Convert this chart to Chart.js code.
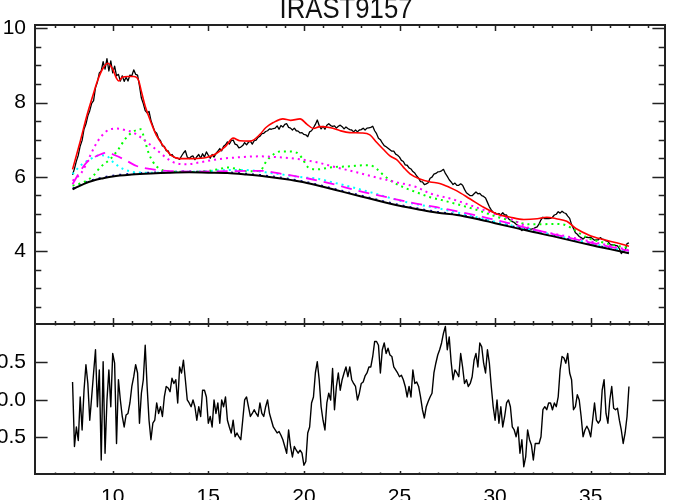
<!DOCTYPE html>
<html><head><meta charset="utf-8">
<script src="https://cdn.jsdelivr.net/npm/chart.js@4.4.1/dist/chart.umd.min.js"></script>
<style>
html,body{margin:0;padding:0;background:#fff;}
#wrap{position:relative;width:700px;height:500px;overflow:hidden;background:#fff;}
canvas{position:absolute;left:0;top:0;}
</style></head><body>
<div id="wrap"><canvas id="cbot" width="700" height="500"></canvas><canvas id="ctop" width="700" height="500"></canvas></div>
<script>
const chartTitle = 'IRAST9157';

// wavelength grid of the observed spectrum (micron)
const wave = [7.9,
8.0,8.1,8.2,8.3,8.4,8.5,8.6,8.7,8.8,8.9,
9.0,9.1,9.2,9.3,9.4,9.5,9.6,9.7,9.8,9.9,
10.0,10.1,10.2,10.3,10.4,10.5,10.6,10.7,10.8,10.9,
11.0,11.1,11.2,11.3,11.4,11.5,11.6,11.7,11.8,11.9,
12.0,12.1,12.2,12.3,12.4,12.5,12.6,12.7,12.8,12.9,
13.0,13.1,13.2,13.3,13.4,13.5,13.6,13.7,13.8,13.9,
14.0,14.1,14.2,14.3,14.4,14.5,14.6,14.7,14.8,14.9,
15.0,15.1,15.2,15.3,15.4,15.5,15.6,15.7,15.8,15.9,
16.0,16.1,16.2,16.3,16.4,16.5,16.6,16.7,16.8,16.9,
17.0,17.1,17.2,17.3,17.4,17.5,17.6,17.7,17.8,17.9,
18.0,18.1,18.2,18.3,18.4,18.5,18.6,18.7,18.8,18.9,
19.0,19.1,19.2,19.3,19.4,19.5,19.6,19.7,19.8,19.9,
20.0,20.1,20.2,20.3,20.4,20.5,20.6,20.7,20.8,20.9,
21.0,21.1,21.2,21.3,21.4,21.5,21.6,21.7,21.8,21.9,
22.0,22.1,22.2,22.3,22.4,22.5,22.6,22.7,22.8,22.9,
23.0,23.1,23.2,23.3,23.4,23.5,23.6,23.7,23.8,23.9,
24.0,24.1,24.2,24.3,24.4,24.5,24.6,24.7,24.8,24.9,
25.0,25.1,25.2,25.3,25.4,25.5,25.6,25.7,25.8,25.9,
26.0,26.1,26.2,26.3,26.4,26.5,26.6,26.7,26.8,26.9,
27.0,27.1,27.2,27.3,27.4,27.5,27.6,27.7,27.8,27.9,
28.0,28.1,28.2,28.3,28.4,28.5,28.6,28.7,28.8,28.9,
29.0,29.1,29.2,29.3,29.4,29.5,29.6,29.7,29.8,29.9,
30.0,30.1,30.2,30.3,30.4,30.5,30.6,30.7,30.8,30.9,
31.0,31.1,31.2,31.3,31.4,31.5,31.6,31.7,31.8,31.9,
32.0,32.1,32.2,32.3,32.4,32.5,32.6,32.7,32.8,32.9,
33.0,33.1,33.2,33.3,33.4,33.5,33.6,33.7,33.8,33.9,
34.0,34.1,34.2,34.3,34.4,34.5,34.6,34.7,34.8,34.9,
35.0,35.1,35.2,35.3,35.4,35.5,35.6,35.7,35.8,35.9,
36.0,36.1,36.2,36.3,36.4,36.5,36.6,36.7,36.8,36.9,
37.0];

// observed flux
const flux = [6.05,
6.22,6.42,6.58,6.83,6.98,7.28,7.42,7.64,7.78,7.98,
8.05,8.4,8.55,8.8,8.85,9.1,8.9,9.18,8.85,9.12,
8.8,8.98,8.72,8.76,8.58,8.72,8.57,8.68,8.58,8.74,
8.72,8.88,8.76,8.74,8.45,8.12,7.97,7.78,7.72,7.76,
7.52,7.37,7.22,7.17,7.03,6.97,6.83,6.82,6.7,6.7,
6.58,6.6,6.53,6.51,6.5,6.47,6.56,6.64,6.7,6.53,
6.49,6.54,6.56,6.46,6.54,6.6,6.5,6.62,6.53,6.67,
6.58,6.5,6.6,6.53,6.63,6.69,6.76,6.7,6.82,6.86,
6.94,6.88,6.97,6.99,6.88,6.86,6.78,6.8,6.84,6.92,
6.86,6.93,6.96,6.88,6.97,6.99,7.06,7.09,7.16,7.17,
7.22,7.24,7.29,7.28,7.3,7.31,7.37,7.28,7.38,7.34,
7.41,7.43,7.33,7.31,7.26,7.31,7.24,7.23,7.18,7.19,
7.14,7.13,7.08,7.21,7.24,7.32,7.41,7.53,7.38,7.29,
7.36,7.28,7.39,7.43,7.38,7.36,7.37,7.31,7.36,7.39,
7.35,7.29,7.34,7.3,7.27,7.26,7.21,7.26,7.21,7.26,
7.27,7.31,7.26,7.31,7.32,7.33,7.36,7.24,7.16,7.04,
7.0,6.91,6.84,6.81,6.77,6.73,6.69,6.69,6.61,6.58,
6.53,6.44,6.41,6.32,6.31,6.24,6.21,6.14,6.1,6.02,
5.96,5.87,5.86,5.79,5.81,5.84,5.96,5.99,6.07,6.09,
6.13,6.14,6.16,6.2,6.09,6.01,5.92,5.86,5.79,5.83,
5.77,5.77,5.81,5.77,5.66,5.57,5.53,5.49,5.49,5.54,
5.59,5.54,5.55,5.49,5.47,5.43,5.31,5.19,5.11,5.04,
5.03,4.99,5.01,4.97,5.03,4.97,4.97,4.87,4.83,4.79,
4.77,4.72,4.69,4.59,4.55,4.61,4.57,4.63,4.59,4.59,
4.6,4.63,4.65,4.73,4.84,4.91,4.87,4.87,4.87,4.88,
4.91,4.97,4.99,5.06,5.02,5.07,5.03,5.01,4.94,4.88,
4.71,4.61,4.49,4.45,4.39,4.36,4.32,4.37,4.37,4.36,
4.37,4.33,4.29,4.3,4.3,4.36,4.32,4.31,4.27,4.26,
4.19,4.16,4.17,4.15,4.14,4.06,3.93,3.99,4.01,4.2,
4.22];

// residuals (lower panel)
const resid = [0.24,
-0.62,-0.36,-0.54,0.04,-0.40,0.13,0.47,0.22,-0.27,0.04,
0.36,0.67,-0.09,0.40,-0.80,0.51,-0.71,0.00,0.40,-0.09,
0.62,0.49,-0.58,0.27,0.00,-0.22,-0.36,-0.20,-0.18,-0.04,
0.18,0.31,0.47,0.36,-0.31,0.09,0.27,0.73,0.18,-0.27,
-0.53,-0.31,-0.27,-0.04,-0.18,-0.09,-0.22,0.04,0.18,0.16,
0.11,0.29,0.22,0.27,-0.04,0.44,0.36,0.53,0.27,0.00,
-0.04,-0.09,0.00,-0.09,-0.27,-0.09,-0.22,0.13,0.13,0.04,
-0.31,-0.22,-0.36,0.00,-0.18,-0.04,-0.31,0.00,-0.09,0.04,
-0.27,-0.36,-0.44,-0.27,-0.49,-0.44,-0.49,-0.53,-0.27,0.00,
0.04,-0.09,-0.22,-0.18,-0.13,-0.18,-0.22,-0.04,-0.18,-0.22,
-0.09,0.00,-0.18,-0.27,-0.36,-0.40,-0.44,-0.42,-0.47,-0.53,
-0.62,-0.71,-0.40,-0.62,-0.76,-0.62,-0.67,-0.71,-0.67,-0.71,
-0.87,-0.82,-0.44,-0.36,-0.04,0.04,0.36,0.51,0.27,-0.09,
-0.27,-0.40,-0.04,0.09,0.00,0.42,-0.13,0.18,0.36,0.13,
0.27,0.36,0.44,0.31,0.44,0.27,0.22,0.18,0.00,0.09,
0.22,0.24,0.32,0.36,0.44,0.44,0.58,0.78,0.78,0.73,
0.36,0.67,0.76,0.62,0.69,0.60,0.58,0.44,0.40,0.36,
0.31,0.33,0.27,0.18,0.04,0.18,0.04,0.40,0.22,0.24,
0.18,0.04,-0.13,-0.24,-0.09,-0.02,0.04,0.09,0.36,0.49,
0.60,0.67,0.76,0.89,0.98,0.67,0.84,0.51,0.27,0.40,
0.36,0.31,0.62,0.44,0.22,0.27,0.18,0.22,0.31,0.53,
0.62,0.44,0.76,0.71,0.49,0.36,0.67,0.49,0.18,-0.09,
-0.27,0.00,-0.31,-0.09,-0.36,-0.22,-0.04,0.00,-0.09,-0.36,
-0.40,-0.49,-0.36,-0.71,-0.53,-0.89,-0.76,-0.40,-0.53,-0.60,
-0.80,-0.58,-0.58,-0.58,-0.49,-0.13,-0.09,-0.13,-0.04,-0.04,
-0.13,-0.04,-0.09,0.04,0.40,0.58,0.56,0.49,0.62,0.36,
0.27,-0.13,-0.09,0.07,0.00,-0.22,-0.49,-0.40,-0.35,-0.40,
-0.49,-0.27,-0.04,-0.27,-0.31,-0.27,0.13,0.27,-0.18,-0.31,
0.00,0.18,-0.11,-0.13,-0.11,-0.27,-0.40,-0.58,-0.44,-0.22,
0.18];

// total model fit (red)
const modelX = [7.9,8.3,8.64,9.0,9.2,9.5,9.75,10.0,10.2,10.32,10.5,10.8,11.1,11.35,11.5,11.7,11.87,12.05,12.3,12.65,13.1,13.5,14.2,14.9,15.4,15.9,16.3,16.65,17.2,17.7,18.0,18.4,18.9,19.3,19.8,20.15,20.5,20.85,21.4,21.9,22.4,23.0,23.45,23.8,24.15,24.5,24.85,25.2,25.55,26.1,26.6,27.1,27.6,28.0,28.7,29.4,30.1,30.8,31.5,32.2,32.7,33.2,33.75,34.25,34.95,35.65,36.35,37.0];
const modelY = [6.2,6.95,7.63,8.25,8.58,8.93,9.06,8.9,8.65,8.58,8.68,8.7,8.7,8.6,8.3,7.9,7.65,7.4,7.1,6.83,6.56,6.49,6.49,6.52,6.62,6.82,7.04,6.97,6.96,7.14,7.32,7.46,7.56,7.52,7.56,7.42,7.3,7.35,7.32,7.24,7.19,7.18,7.13,6.93,6.74,6.56,6.46,6.26,6.08,5.93,5.86,5.82,5.72,5.62,5.4,5.18,5.0,4.91,4.85,4.87,4.91,4.87,4.8,4.6,4.42,4.31,4.22,4.13];

// continuum (thick black) and a dark-blue component hugging it
const contX = [7.9,8.5,9,9.5,10,11,12,13,14,15,16,17,18,19,20,21,22,23,24,25,26,27,28,29,30,31,32,33,34,35,36,37];
const contY = [5.66,5.81,5.9,5.96,6.01,6.06,6.09,6.11,6.12,6.11,6.1,6.06,6.01,5.94,5.85,5.73,5.6,5.47,5.34,5.22,5.12,5.03,4.97,4.87,4.75,4.63,4.51,4.4,4.28,4.16,4.05,3.94];
const navyY = [5.69,5.84,5.93,5.99,6.04,6.09,6.12,6.14,6.15,6.14,6.13,6.09,6.04,5.97,5.88,5.76,5.63,5.5,5.37,5.25,5.15,5.06,5.0,4.9,4.78,4.66,4.54,4.43,4.31,4.19,4.08,3.97];

// component: magenta dotted
const magDotX = [7.9,8.38,8.73,9.07,9.42,9.86,10.21,10.64,11.08,11.6,12.04,12.47,12.91,13.35,13.87,14.57,15.44,16.48,17.7,18.58,19.8,20.67,21.72,22.76,23.81,24.85,25.9,26.6,27.6,28.5,29.2,30.1,31.0,31.8,32.5,33.5,34.5,35.5,37.0];
const magDotY = [5.89,6.12,6.47,6.83,7.1,7.28,7.3,7.26,7.19,7.01,6.83,6.65,6.47,6.36,6.34,6.39,6.47,6.52,6.55,6.53,6.47,6.39,6.25,6.12,5.98,5.85,5.72,5.55,5.42,5.27,5.14,4.98,4.82,4.62,4.52,4.42,4.31,4.2,4.02];

// component: green dotted
const grnDotX = [7.9,8.46,8.99,9.34,9.86,10.3,10.64,10.99,11.25,11.46,11.69,11.87,12.12,12.47,13.0,14.2,15.0,15.5,16.0,16.4,17.0,17.7,18.05,18.4,18.75,19.2,19.62,19.88,20.23,20.67,21.5,22.4,23.1,23.46,23.81,24.15,24.68,25.2,25.9,26.6,27.3,28.3,29.2,30.1,31.0,31.8,32.5,33.0,33.5,34.0,34.5,35.0,35.5,36.0,37.0];
const grnDotY = [5.76,5.85,6.03,6.25,6.47,6.74,7.01,7.19,7.26,7.28,6.96,6.65,6.39,6.21,6.14,6.13,6.16,6.2,6.25,6.22,6.15,6.16,6.43,6.6,6.68,6.68,6.65,6.52,6.25,6.2,6.26,6.28,6.31,6.31,6.21,6.05,5.85,5.72,5.58,5.45,5.36,5.22,5.08,4.92,4.8,4.72,4.72,4.73,4.72,4.62,4.45,4.32,4.25,4.18,4.08];

// component: cyan dotted
const cyaDotX = [7.9,8.29,8.81,9.34,9.69,10.03,10.55,11.25,12.12,13.35,14.57,15.96,17.0,18.0,19.0,20.0,20.7,21.5,22.5,23.5,24.5,25.5,26.5,27.5,28.5,29.5,30.5,31.5,32.5,33.5,34.5,35.5,37.0];
const cyaDotY = [6.07,6.29,6.47,6.58,6.56,6.39,6.21,6.12,6.11,6.13,6.14,6.18,6.18,6.12,6.05,5.98,5.95,5.85,5.72,5.58,5.43,5.3,5.2,5.1,4.98,4.85,4.73,4.62,4.5,4.38,4.27,4.15,3.98];

// component: magenta dashed
const magDshX = [7.9,8.3,8.64,9.16,9.69,10.12,10.73,11.25,11.95,12.82,14.22,15.96,17.7,18.92,20.15,21.54,22.76,24.15,25.55,26.94,28.3,29.5,30.5,31.5,32.5,33.5,34.5,35.5,37.0];
const magDshY = [5.8,6.15,6.39,6.56,6.65,6.58,6.43,6.29,6.21,6.16,6.14,6.15,6.16,6.07,5.96,5.8,5.63,5.47,5.31,5.18,5.04,4.9,4.78,4.64,4.52,4.4,4.28,4.17,4.0];

// ticks
const xMajorTicks = [10,15,20,25,30,35];
const xMinorTicks = [7,8,9,11,12,13,14,16,17,18,19,21,22,23,24,26,27,28,29,31,32,33,34,36,37,38];
const yTopMajorTicks = [4,6,8,10];
const yTopMinorTicks = [2.5,3,3.5,4.5,5,5.5,6.5,7,7.5,8.5,9,9.5];
const yBotMajorTicks = [-0.5,0,0.5];

const X_MIN = 5.936, X_MAX = 38.886;
const FONT = {family:'"Liberation Sans", Arial, Helvetica, sans-serif', size:21};

function pts(xs, ys){ return xs.map((x,i)=>({x:x, y:ys[i]})); }

function framePlugin(o){
  return {
    id:'frame_'+o.name,
    afterDatasetsDraw(chart){
      const c = chart.ctx, a = chart.chartArea, xs = chart.scales.x, ys = chart.scales.y;
      c.save();
      c.strokeStyle = '#222'; c.lineWidth = 1.5;
      c.beginPath();
      const xt = (list, len) => list.forEach(v => {
        const p = Math.round(xs.getPixelForValue(v)) + 0.5;
        c.moveTo(p, a.bottom); c.lineTo(p, a.bottom - len);
        c.moveTo(p, a.top); c.lineTo(p, a.top + len);
      });
      const yt = (list, len) => list.forEach(v => {
        const p = Math.round(ys.getPixelForValue(v)) + 0.5;
        c.moveTo(a.left, p); c.lineTo(a.left + len, p);
        c.moveTo(a.right, p); c.lineTo(a.right - len, p);
      });
      xt(o.xMajor, o.xMajLen); xt(o.xMinor, o.xMinLen);
      yt(o.yMajor, o.yMajLen); yt(o.yMinor, o.yMinLen);
      c.stroke();
      c.lineWidth = 2;
      c.strokeRect(a.left, a.top, a.right - a.left, a.bottom - a.top);
      if (o.title) {
        c.fillStyle = '#111';
        c.font = '30px "Liberation Sans Narrow", "Liberation Sans", Arial, sans-serif';
        c.textAlign = 'center'; c.textBaseline = 'alphabetic';
        const w = c.measureText(o.title).width;
        const target = 133;
        c.translate(346, 18);
        c.scale(target / w, 1);
        c.fillText(o.title, 0, 0);
      }
      c.restore();
    }
  };
}

const baseOpts = (padding) => ({
  responsive:false, animation:false, events:[],
  layout:{padding:padding},
  plugins:{legend:{display:false}, tooltip:{enabled:false}, title:{display:false}},
  elements:{point:{radius:0}, line:{fill:false, borderCapStyle:'butt', borderJoinStyle:'round'}},
});

const dotted = (xs, ys, color, dash, w) => ({data:pts(xs,ys), borderColor:color, borderWidth:w||2, borderDash:dash, cubicInterpolationMode:'monotone'});

// upper panel
const topOpts = baseOpts({left:0, top:25, right:35, bottom:176});
topOpts.scales = {
  x:{type:'linear', min:X_MIN, max:X_MAX, display:false},
  y:{type:'linear', min:2.033, max:10.089,
     afterFit(s){ s.width = 35; },
     afterBuildTicks(s){ s.ticks = yTopMajorTicks.map(v=>({value:v})); },
     grid:{display:false, drawTicks:false}, border:{display:false},
     ticks:{padding:9, color:'#000', font:FONT, callback:(v)=>String(v)}}
};
new Chart(document.getElementById('ctop'), {
  type:'line',
  data:{datasets:[
    {data:pts(modelX, modelY), borderColor:'#ff0000', borderWidth:1.6, cubicInterpolationMode:'monotone'},
    {data:pts(contX, contY), borderColor:'#000000', borderWidth:2, cubicInterpolationMode:'monotone'},
    dotted(magDshX, magDshY, '#ff00ff', [11,7], 1.8),
    dotted(magDotX, magDotY, '#ff00ff', [2,4], 2),
    dotted(grnDotX, grnDotY, '#00ff00', [2,4], 2),
    dotted(cyaDotX, cyaDotY, '#00ffff', [2,4], 2),
    dotted(contX, navyY, '#1010a0', [2,5], 1.3),
    {data:pts(wave, flux), borderColor:'#000000', borderWidth:1.3, tension:0}
  ]},
  options:topOpts,
  plugins:[framePlugin({name:'top', xMajor:xMajorTicks, xMinor:xMinorTicks, xMajLen:6, xMinLen:3,
    yMajor:yTopMajorTicks, yMinor:yTopMinorTicks, yMajLen:12.6, yMinLen:6.3, title:chartTitle})]
});

// lower panel (residuals)
const botOpts = baseOpts({left:0, top:324, right:35, bottom:0});
botOpts.scales = {
  x:{type:'linear', min:X_MIN, max:X_MAX, position:'bottom',
     afterFit(s){ s.height = 26; },
     afterBuildTicks(s){ s.ticks = xMajorTicks.map(v=>({value:v})); },
     grid:{display:false, drawTicks:false}, border:{display:false},
     ticks:{padding:11, color:'#000', font:FONT, maxRotation:0, autoSkip:false, callback:(v)=>String(v)}},
  y:{type:'linear', min:-0.987, max:1.013,
     afterFit(s){ s.width = 35; },
     afterBuildTicks(s){ s.ticks = yBotMajorTicks.map(v=>({value:v})); },
     grid:{display:false, drawTicks:false}, border:{display:false},
     ticks:{padding:9, color:'#000', font:FONT, callback:(v)=>Number(v).toFixed(1)}}
};
new Chart(document.getElementById('cbot'), {
  type:'line',
  data:{datasets:[
    {data:pts(wave, resid), borderColor:'#000000', borderWidth:1.4, tension:0}
  ]},
  options:botOpts,
  plugins:[framePlugin({name:'bot', xMajor:xMajorTicks, xMinor:xMinorTicks, xMajLen:3, xMinLen:1.5,
    yMajor:yBotMajorTicks, yMinor:[], yMajLen:12.6, yMinLen:6.3})]
});
</script>
</body></html>
